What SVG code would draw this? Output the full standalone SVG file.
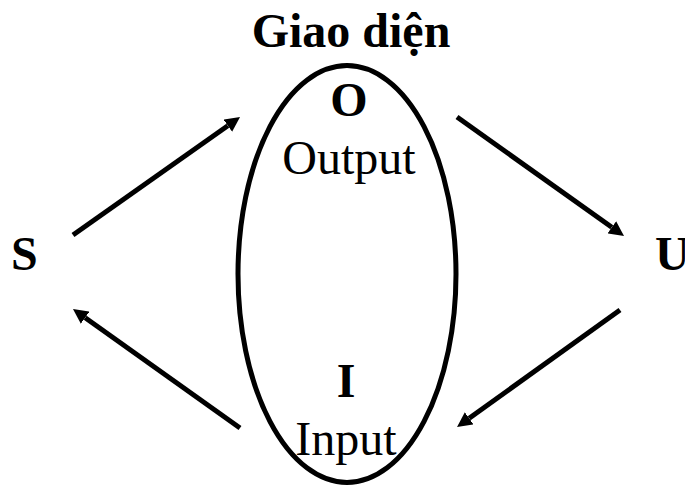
<svg xmlns="http://www.w3.org/2000/svg" width="685" height="486" viewBox="0 0 685 486">
  <style>
    text { font-family: "Liberation Serif", "Times New Roman", serif; font-size: 48px; fill: #000; }
    .b { font-weight: bold; }
    .c { text-anchor: middle; }
    .conn { stroke: #000; stroke-width: 5; fill: none; marker-end: url(#ah); }
  </style>
  <defs>
    <marker id="ah" markerUnits="userSpaceOnUse" markerWidth="15" markerHeight="15" viewBox="0 0 15 15" refX="0" refY="7.5" orient="auto">
      <path d="M0,0 L15,7.5 L0,15 z" fill="#000"/>
    </marker>
  </defs>
  <g id="title">
    <text class="b c" x="351" y="47">Giao diện</text>
  </g>
  <g id="interface">
    <ellipse cx="347" cy="274" rx="109" ry="208.5" fill="none" stroke="#000" stroke-width="5"/>
    <text class="b c" x="349" y="116">O</text>
    <text class="c" x="349" y="174">Output</text>
    <text class="b c" x="346" y="397">I</text>
    <text class="c" x="346" y="455">Input</text>
  </g>
  <g id="S">
    <text class="b" x="11" y="270">S</text>
  </g>
  <g id="U">
    <text class="b" x="655" y="270">U</text>
  </g>
  <g id="connectors">
    <path class="conn" d="M73,235 L227.8,125.7"/>
    <path class="conn" d="M457,117 L611.8,227.3"/>
    <path class="conn" d="M620,310 L469.2,418.3"/>
    <path class="conn" d="M240,428 L85.2,317.7"/>
  </g>
</svg>
